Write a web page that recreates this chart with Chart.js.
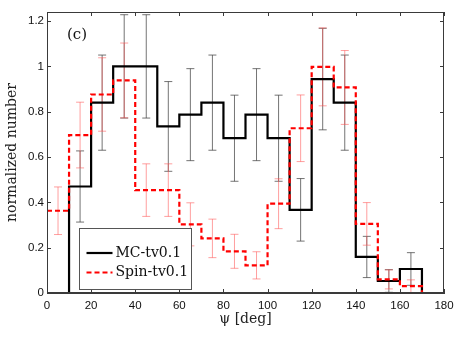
<!DOCTYPE html>
<html>
<head>
<meta charset="utf-8">
<script src="https://cdn.jsdelivr.net/npm/chart.js@4/dist/chart.umd.min.js"></script>
<style>
  html, body { margin: 0; padding: 0; background: #fff; }
  #wrap { width: 463px; height: 337px; }
</style>
</head>
<body>
<div id="wrap"><canvas id="c" width="463" height="337"></canvas></div>
<script>
// ---- data ----
const binEdges = [0,10,20,30,40,50,60,70,80,90,100,110,120,130,140,150,160,170,180];
const binCenters = [5,15,25,35,45,55,65,75,85,95,105,115,125,135,145,155,165,175];
const mcValues   = [0, 0.47, 0.84, 1.0, 1.0, 0.735, 0.787, 0.84, 0.683, 0.787, 0.683, 0.367, 0.944, 0.84, 0.159, 0.053, 0.106, 0];
const mcErrors   = [0, 0.157, 0.21, 0.228, 0.228, 0.198, 0.203, 0.21, 0.19, 0.203, 0.19, 0.138, 0.224, 0.21, 0.091, 0.05, 0.072, 0];
const spinValues = [0.363, 0.697, 0.876, 0.938, 0.454, 0.454, 0.303, 0.241, 0.184, 0.122, 0.394, 0.727, 0.998, 0.907, 0.305, 0.06, 0.03, 0];
const spinErrors = [0.105, 0.145, 0.162, 0.165, 0.116, 0.116, 0.095, 0.085, 0.075, 0.06, 0.11, 0.147, 0.172, 0.163, 0.094, 0.042, 0.028, 0];
const seriesNames = ['MC-tv0.1', 'Spin-tv0.1'];
const xTickValues = [0,20,40,60,80,100,120,140,160,180];
const yTickValues = [0,0.2,0.4,0.6,0.8,1,1.2];
const yTickLabels = ['0','0.2','0.4','0.6','0.8','1','1.2'];
const panelLabel = '(c)';
const xTitle = 'ψ [deg]';
const yTitle = 'normalized number';

// step points: value i holds over [edge i, edge i+1]
function stepPoints(vals) {
  const pts = vals.map((v, i) => ({ x: binEdges[i], y: v }));
  pts.push({ x: binEdges[binEdges.length - 1], y: vals[vals.length - 1] });
  return pts;
}

const serif = "'DejaVu Serif', serif";
const sans = "'Liberation Sans', Arial, sans-serif";
const axisColor = '#3a3a3a';

const errorBarPlugin = {
  id: 'errbars',
  beforeDatasetsDraw(chart) {
    const ctx = chart.ctx;
    const xs = chart.scales.x, ys = chart.scales.y;
    const sets = [
      { v: mcValues, e: mcErrors, color: 'rgba(70,70,70,0.75)' },
      { v: spinValues, e: spinErrors, color: 'rgba(255,80,80,0.55)' }
    ];
    ctx.save();
    ctx.lineWidth = 1;
    sets.forEach(s => {
      ctx.strokeStyle = s.color;
      s.v.forEach((v, i) => {
        if (!s.e[i]) return;
        const x = xs.getPixelForValue(binCenters[i]);
        const lo = Math.max(0, v - s.e[i]);
        const y1 = ys.getPixelForValue(v + s.e[i]);
        const y2 = ys.getPixelForValue(lo);
        ctx.beginPath();
        ctx.moveTo(x, y1); ctx.lineTo(x, y2);
        ctx.moveTo(x - 4, y1); ctx.lineTo(x + 4, y1);
        if (v - s.e[i] > 0) { ctx.moveTo(x - 4, y2); ctx.lineTo(x + 4, y2); }
        ctx.stroke();
      });
    });
    ctx.restore();
  },
  afterDraw(chart) {
    const ctx = chart.ctx;
    const a = chart.chartArea;
    const xs = chart.scales.x, ys = chart.scales.y;
    ctx.save();
    // frame
    ctx.strokeStyle = axisColor;
    ctx.lineWidth = 1;
    ctx.strokeRect(Math.round(a.left) + 0.5, Math.round(a.top) + 0.5, Math.round(a.right - a.left) - 1, Math.round(a.bottom - a.top) - 1);
    // inward ticks
    ctx.beginPath();
    xTickValues.forEach(v => {
      const x = Math.round(xs.getPixelForValue(v)) + 0.5;
      ctx.moveTo(x, a.bottom); ctx.lineTo(x, a.bottom - 4);
      ctx.moveTo(x, a.top); ctx.lineTo(x, a.top + 4);
    });
    yTickValues.forEach(v => {
      const y = Math.round(ys.getPixelForValue(v)) + 0.5;
      ctx.moveTo(a.left, y); ctx.lineTo(a.left + 4, y);
      ctx.moveTo(a.right, y); ctx.lineTo(a.right - 4, y);
    });
    ctx.stroke();
    // panel label
    ctx.fillStyle = '#111';
    ctx.font = "15px " + serif;
    ctx.textBaseline = 'middle';
    ctx.textAlign = 'left';
    ctx.fillText(panelLabel, a.left + 20, a.top + 23);
    // legend
    const lx = a.left + 32.5, ly = a.top + 216.5, lw = 112, lh = 61;
    ctx.fillStyle = '#fff';
    ctx.fillRect(lx, ly, lw, lh);
    ctx.strokeStyle = '#555';
    ctx.lineWidth = 1;
    ctx.strokeRect(lx, ly, lw, lh);
    const entries = [
      { name: seriesNames[0], color: '#000', dash: [] },
      { name: seriesNames[1], color: '#ff0000', dash: [5, 3] }
    ];
    entries.forEach((en, k) => {
      const yy = ly + 24.5 + k * 19.5;
      ctx.strokeStyle = en.color;
      ctx.lineWidth = 2.2;
      ctx.setLineDash(en.dash);
      ctx.beginPath();
      ctx.moveTo(lx + 7, yy); ctx.lineTo(lx + 33, yy);
      ctx.stroke();
      ctx.setLineDash([]);
      ctx.fillStyle = '#111';
      ctx.font = "14px " + serif;
      ctx.textBaseline = 'middle';
      ctx.fillText(en.name, lx + 36, yy);
    });
    ctx.restore();
  }
};

new Chart(document.getElementById('c'), {
  type: 'line',
  data: {
    datasets: [
      { label: seriesNames[0], data: stepPoints(mcValues), stepped: true, borderColor: '#000', borderWidth: 2.2, pointRadius: 0, fill: false, order: 2 },
      { label: seriesNames[1], data: stepPoints(spinValues), stepped: true, borderColor: '#ff0000', borderWidth: 2.2, borderDash: [5, 3], pointRadius: 0, fill: false, order: 1 }
    ]
  },
  options: {
    responsive: false,
    animation: false,
    devicePixelRatio: 1,
    layout: { padding: { top: 12, right: 19, bottom: 0, left: 0 } },
    plugins: { legend: { display: false }, tooltip: { enabled: false } },
    scales: {
      x: {
        type: 'linear', min: 0, max: 180,
        afterBuildTicks: s => { s.ticks = xTickValues.map(v => ({ value: v })); },
        afterFit: s => { s.height = 44; },
        grid: { display: false, drawTicks: false },
        border: { display: true, color: axisColor, width: 1 },
        ticks: { color: '#111', font: { family: sans, size: 11.5 }, padding: 6, maxRotation: 0 },
        title: { display: true, text: xTitle, color: '#222', font: { family: serif, size: 14 }, padding: { top: 0, bottom: 9.5 } }
      },
      y: {
        type: 'linear', min: 0, max: 1.24,
        afterBuildTicks: s => { s.ticks = yTickValues.map(v => ({ value: v })); },
        afterFit: s => { s.width = 47; },
        grid: { display: false, drawTicks: false },
        border: { display: true, color: axisColor, width: 1 },
        ticks: { color: '#111', font: { family: sans, size: 11.5 }, padding: 3,
          callback: (v) => { const i = yTickValues.findIndex(t => Math.abs(t - v) < 1e-9); return i >= 0 ? yTickLabels[i] : ''; } },
        title: { display: true, text: yTitle, color: '#222', font: { family: serif, size: 14 }, padding: { top: 3.5, bottom: 0 } }
      }
    }
  },
  plugins: [errorBarPlugin]
});
</script>
</body>
</html>
